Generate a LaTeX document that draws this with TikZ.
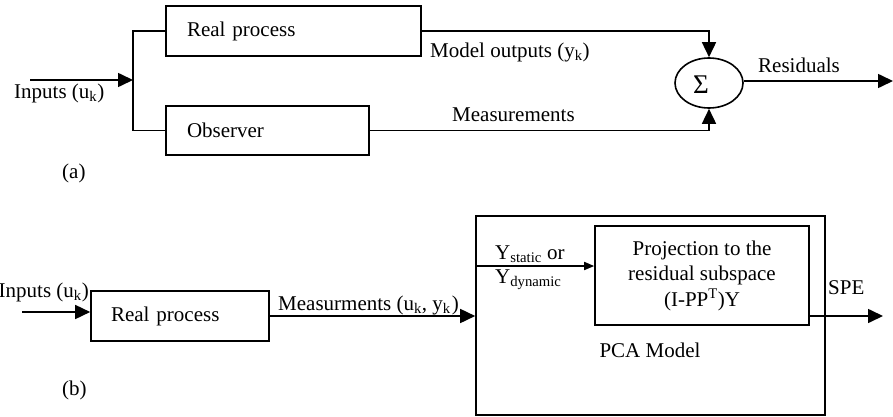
\documentclass[tikz,border=0pt]{standalone}
\usepackage{fontspec}
\setmainfont{Liberation Serif}
\usetikzlibrary{arrows.meta,shapes.geometric}
\begin{document}
\begin{tikzpicture}[x=1pt,y=-1pt,
  every node/.style={font=\fontsize{21}{25.5}\selectfont, inner sep=0pt},
  blk/.style={draw, line width=1.6pt, rectangle},
  wire/.style={line width=1.6pt},
  big/.style={-{Triangle[length=15pt,width=14pt]}},
  small/.style={-{Triangle[length=10pt,width=8pt]}},
  lbl/.style={anchor=west},
]
\useasboundingbox (0,0) rectangle (893,417);

% ---------- (a) residual generation with an observer ----------
\node[blk, minimum width=255pt, minimum height=50pt, text width=213pt,
      inner xsep=21pt, align=left] (rp) at (293.5,31) {Real process};
\node[blk, minimum width=203pt, minimum height=49pt, text width=161pt,
      inner xsep=21pt, align=left] (obs) at (267.5,130.5) {Observer};
\node[draw, ellipse, line width=1.6pt, minimum width=68pt, minimum height=50pt]
      (sum) at (709,83) {};
\node[font=\fontsize{27}{27}\selectfont] (sigma) at (701,85) {Σ};

\coordinate (inA) at (30,80);
\coordinate (split) at (133,80);
\coordinate (resend) at (893,81);

\draw[wire,big] (inA) -- (split);
\draw[wire] (rp.west) -| (split) |- (obs.west);
\draw[wire,big] (rp.east) -| (sum.north);
\draw[wire,big] (obs.east) -| (sum.south);
\draw[wire,big] (sum.east |- resend) -- (resend);

\node[lbl] (inAlbl) at (14,93) {Inputs (u\textsubscript{k})};
\node[lbl] (ylbl) at (430,52) {Model outputs (y\textsubscript{k})};
\node[lbl] (mlbl) at (452,115) {Measurements};
\node[lbl] (rlbl) at (758,65) {Residuals};
\node[lbl] (tagA) at (62,173) {(a)};

% ---------- (b) residual generation with a PCA model ----------
\node[blk, minimum width=178pt, minimum height=50pt, text width=138pt,
      inner xsep=20pt, align=left] (rpb) at (180,316) {Real process};
\node[blk, minimum width=349pt, minimum height=199pt] (pca) at (650.5,315.5) {};
\node[blk, minimum width=214pt, minimum height=99pt, align=center]
      (proj) at (702,275.5) {Projection to the\\residual subspace\\(I-PP\textsuperscript{T})Y};

\coordinate (inB) at (22,312);
\coordinate (ystart) at (476,266);
\coordinate (speend) at (883,316);

\draw[wire,big] (inB) -- (inB -| rpb.west);
\draw[wire,big] (rpb.east) -- (rpb.east -| pca.west);
\draw[wire,small] (ystart) -- (ystart -| proj.west);
\draw[wire,big] (proj.east |- speend) -- (speend);

\node[anchor=east] (inBlbl) at (89,292) {Inputs (u\textsubscript{k})};
\node[lbl] (mblbl) at (278,305) {Measurments (u\textsubscript{k}, y\textsubscript{k}\kern1pt)};
\node[lbl] (ys) at (495,254) {Y\textsubscript{static} or};
\node[lbl] (yd) at (495,280) {Y\textsubscript{dynamic}};
\node (pcalbl) at (650,350) {PCA Model};
\node[lbl] (spelbl) at (828,288) {SPE};
\node[lbl] (tagB) at (62,390) {(b)};
\end{tikzpicture}
\end{document}
